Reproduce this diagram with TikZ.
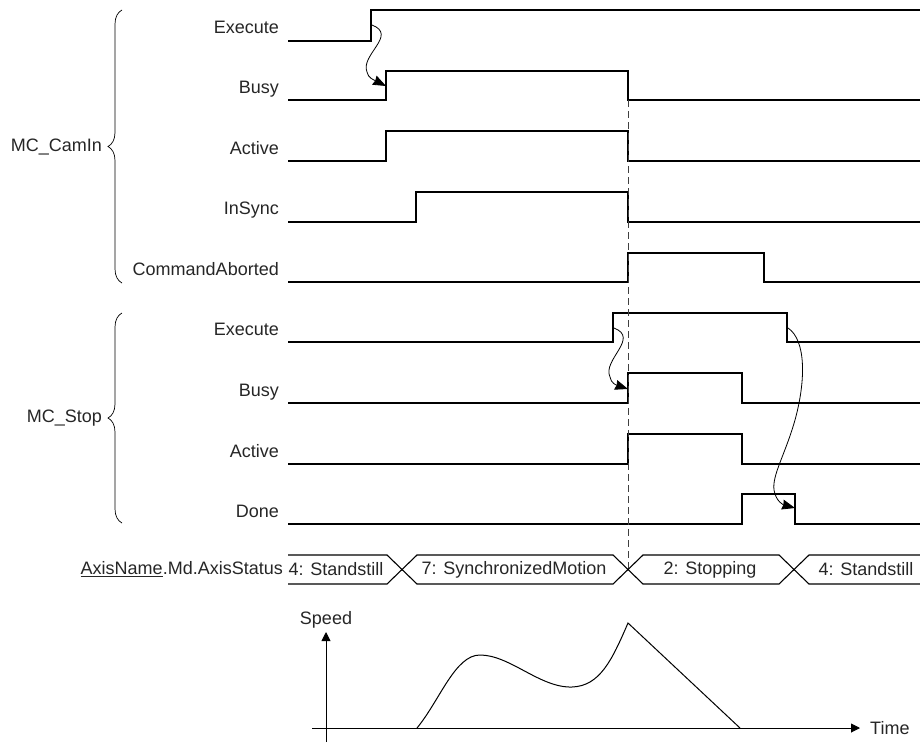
\documentclass[tikz,border=0pt]{standalone}
\usepackage{fontspec}
\setmainfont{Liberation Sans}
\usepackage{tikz}
\usetikzlibrary{arrows.meta,positioning,calc,decorations.pathreplacing}

\tikzset{
  sig/.style={line width=1.4pt, line join=miter},
  lbl/.style={anchor=base east, inner sep=0pt, text=black!85},
  grp/.style={anchor=east, inner sep=0pt, text=black!85},
  grpbrace/.style={decorate, decoration={brace, amplitude=14pt}, line width=0.7pt},
  cause/.style={line width=0.8pt, -{Stealth[length=13pt,width=10pt,inset=1pt]}},
  stat/.style={inner sep=0pt, text=black!85},
  axisline/.style={line width=0.9pt, -{Triangle[length=9pt,width=9pt]}},
}

\begin{document}
\begin{tikzpicture}[x=1pt, y=-1pt, font=\fontsize{18}{21}\selectfont]
\useasboundingbox (0,0) rectangle (920,742);

% MC_CamIn signals
\node[lbl] (cexe) at (279,33) {Execute};
\node[lbl] (cbusy) at (279,93) {Busy};
\node[lbl] (cact) at (279,154) {Active};
\node[lbl] (csync) at (279,214) {InSync};
\node[lbl] (cabort) at (279,275) {CommandAborted};
\draw[sig] (288,41) -- (371,41) -- (371,10) -- (920,10);
\draw[sig] (288,100) -- (386,100) -- (386,71) -- (628,71) -- (628,100) -- (920,100);
\draw[sig] (288,161) -- (386,161) -- (386,131) -- (628,131) -- (628,161) -- (920,161);
\draw[sig] (288,222) -- (416,222) -- (416,192) -- (628,192) -- (628,222) -- (920,222);
\draw[sig] (288,282) -- (628,282) -- (628,253) -- (764,253) -- (764,282) -- (920,282);

% MC_Stop signals
\node[lbl] (sexe) at (279,335) {Execute};
\node[lbl] (sbusy) at (279,396) {Busy};
\node[lbl] (sact) at (279,457) {Active};
\node[lbl] (sdone) at (279,517) {Done};
\draw[sig] (288,342) -- (613,342) -- (613,313) -- (787,313) -- (787,342) -- (920,342);
\draw[sig] (288,403) -- (628,403) -- (628,373) -- (742,373) -- (742,403) -- (920,403);
\draw[sig] (288,464) -- (628,464) -- (628,434) -- (742,434) -- (742,464) -- (920,464);
\draw[sig] (288,524) -- (742,524) -- (742,494) -- (795,494) -- (795,524) -- (920,524);

% groups
\draw[grpbrace] (122,283) -- (122,10);
\node[grp] (camin) at (102,147) {MC\_CamIn};
\draw[grpbrace] (122,523) -- (122,313);
\node[grp] (stop) at (102,418) {MC\_Stop};

% abort instant
\draw[line width=0.8pt, black!75, dash pattern=on 7pt off 4pt] (628,100) -- (628,569);

% cause -> effect
\coordinate (cexeup) at (372,25);
\coordinate (cbusyup) at (386,86);
\coordinate (sexeup) at (614,328);
\coordinate (sbusyup) at (628,389);
\coordinate (sexedn) at (788,328);
\coordinate (sdonedn) at (795,508);
\draw[cause] (cexeup) .. controls (398,35) and (360,55) .. (367,72)
  .. controls (368,78) and (374,80) .. (cbusyup);
\draw[cause] (sexeup) .. controls (640,338) and (602,360) .. (610,377)
  .. controls (611,383) and (616,385) .. (sbusyup);
\draw[cause] (sexedn) .. controls (806,340) and (806,380) .. (795,420)
  .. controls (785,455) and (772,475) .. (774,490)
  .. controls (776,502) and (784,505) .. (sdonedn);

% axis status
\node[stat, anchor=east] (axstat) at (283,569.5) {\underline{AxisName}.Md.AxisStatus};
\draw[sig, line width=1.1pt] (288,555) -- (387,555) -- (417,584) -- (613,584) -- (643,555) -- (779,555) -- (809,584) -- (920,584);
\draw[sig, line width=1.1pt] (288,584) -- (387,584) -- (417,555) -- (613,555) -- (643,584) -- (779,584) -- (809,555) -- (920,555);
\node[stat] (st1) at (336,569.5) {4: Standstill};
\node[stat] (st2) at (514,569.5) {7: SynchronizedMotion};
\node[stat] (st3) at (710,569.5) {2: Stopping};
\node[stat] (st4) at (866,569.5) {4: Standstill};

% speed graph
\draw[axisline] (312,728) -- (860,728);
\draw[axisline] (326,742) -- (326,632);
\node[stat, anchor=base] (speed) at (326,624) {Speed};
\node[stat, anchor=west] (time) at (870,728) {Time};
\draw[line width=1pt] (417,728) .. controls (440,700) and (455,655) .. (480,655)
  .. controls (510,655) and (540,688) .. (572,687)
  .. controls (600,686) and (612,660) .. (628,623) -- (740,728);
\end{tikzpicture}
\end{document}
